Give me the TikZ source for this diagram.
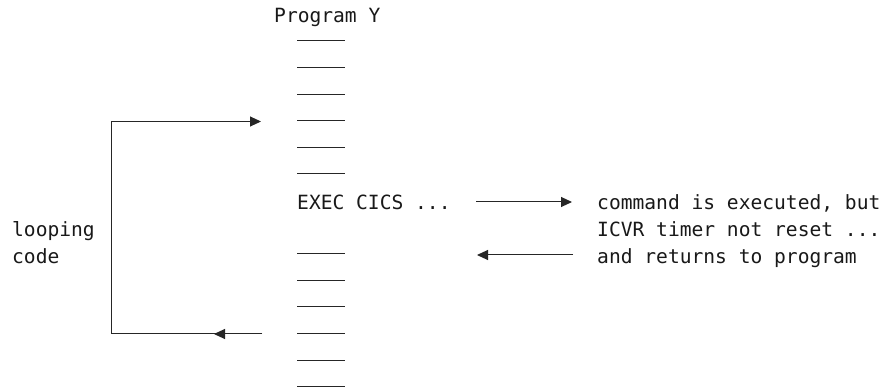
\documentclass[tikz,border=0pt]{standalone}
\usepackage{fontspec}
\setmonofont{DejaVu Sans Mono}
\usetikzlibrary{arrows.meta}
\begin{document}
\begin{tikzpicture}[x=1pt,y=-1pt,
  txt/.style={font=\ttfamily\fontsize{19.6}{20}\selectfont, anchor=base west, inner sep=0pt, text=black!90},
  dashline/.style={line width=1pt, black!85},
  conn/.style={line width=1pt, black!85},
  tip/.style={-{Triangle[length=11pt,width=10pt]}}]
\useasboundingbox[fill=white] (0,0) rectangle (889,387);
% text
\node[txt] (prog) at (274,23) {Program Y};
\node[txt] (exec) at (297,210) {EXEC CICS ...};
\node[txt] (cmd) at (597,210) {command is executed, but};
\node[txt] (icvr) at (597,236.7) {ICVR timer not reset ...};
\node[txt] (ret) at (597,263.4) {and returns to program};
\node[txt] (loop1) at (12,236.7) {looping};
\node[txt] (loop2) at (12,263.4) {code};
% program lines
\foreach \j in {0,1,2,3,4,5,8,9,10,11,12,13}
  \draw[dashline] ({297},{41+26.6*\j}) -- ({345},{41+26.6*\j});
% arrows to/from command
\coordinate (a1s) at (476,202);
\coordinate (a1e) at (572,202);
\coordinate (a2s) at (573,255);
\coordinate (a2e) at (477,255);
\draw[conn,tip] (a1s) -- (a1e);
\draw[conn,tip] (a2s) -- (a2e);
% loop
\coordinate (lt) at (261,121.5);
\coordinate (ltc) at (111,121.5);
\coordinate (lbc) at (111,334);
\coordinate (lb) at (262,334);
\coordinate (lm) at (214,334);
\draw[conn,tip] (lb) -- (lbc) -- (ltc) -- (lt);
\draw[conn,tip] (lb) -- (lm);
\end{tikzpicture}
\end{document}
